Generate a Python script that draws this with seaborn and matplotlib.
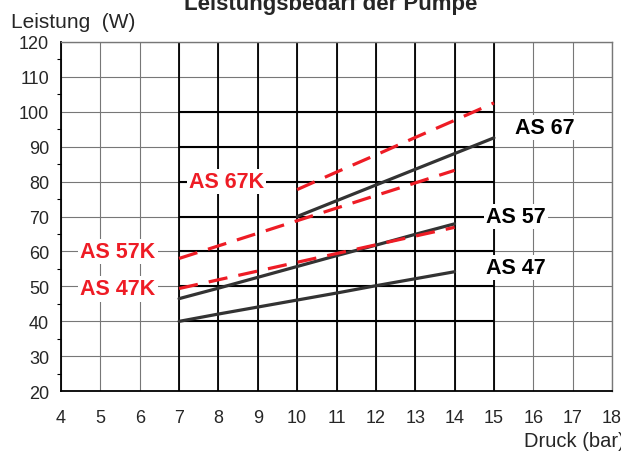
import pandas as pd
import seaborn as sns
import matplotlib.pyplot as plt

# Leistungsbedarf der Pumpe: Druck (bar) vs Leistung (W)
druck_7_14 = [7, 8, 9, 10, 11, 12, 13, 14]
druck_10_15 = [10, 11, 12, 13, 14, 15]

as47 = [40, 42.1, 44.1, 46.1, 48.1, 50.2, 52.2, 54.2]
as57 = [46.5, 49.5, 52.6, 55.7, 58.8, 61.8, 64.9, 67.9]
as67 = [70, 74.5, 79, 83.5, 88, 92.5]
as47k = [49.4, 51.9, 54.4, 56.9, 59.4, 61.9, 64.4, 66.9]
as57k = [58, 61.6, 65.2, 68.8, 72.4, 76, 79.6, 83.2]
as67k = [77.7, 82.7, 87.6, 92.6, 97.5, 102.5]

x_ticks = list(range(4, 19))
y_ticks = list(range(20, 121, 10))

series = [
    ("AS 47", druck_7_14, as47),
    ("AS 57", druck_7_14, as57),
    ("AS 67", druck_10_15, as67),
    ("AS 47K", druck_7_14, as47k),
    ("AS 57K", druck_7_14, as57k),
    ("AS 67K", druck_10_15, as67k),
]
rows = []
for name, xs, ys in series:
    for x, y in zip(xs, ys):
        rows.append({"Druck": x, "Leistung": y, "Pumpe": name})
df = pd.DataFrame(rows)

sns.set_style("white")
plt.rcParams['font.family'] = ['Liberation Sans', 'DejaVu Sans']

fig = plt.figure(figsize=(6.21, 4.52), dpi=100)
ax = fig.add_axes([61 / 621, 0.1321, 551 / 621, 0.7734])

# grid: thin grey everywhere, heavier black in the central block
for x in x_ticks:
    ax.axvline(x, color='#777777', lw=0.8, zorder=0)
for y in y_ticks:
    ax.axhline(y, color='#777777', lw=0.8, zorder=0)
ax.vlines(range(7, 16), 20, 120, color='black', lw=1.3, zorder=0)
ax.hlines(range(40, 101, 10), 7, 15, color='black', lw=1.5, zorder=0)

black = '#333333'
red = '#ee1c25'
palette = {"AS 47": black, "AS 57": black, "AS 67": black,
           "AS 47K": red, "AS 57K": red, "AS 67K": red}
dashes = {"AS 47": "", "AS 57": "", "AS 67": "",
          "AS 47K": (6, 3.5), "AS 57K": (6, 3.5), "AS 67K": (6, 3.5)}
sns.lineplot(data=df, x="Druck", y="Leistung", hue="Pumpe", style="Pumpe",
             palette=palette, dashes=dashes, lw=2.3, legend=False, ax=ax,
             zorder=3)

box = dict(fc='white', ec='none', pad=1.5)
lab = dict(fontsize=15.5, fontweight='bold', ha='center', va='center', bbox=box, zorder=4)
ax.text(8.2, 80, "AS 67K", color=red, **lab)
ax.text(5.45, 60, "AS 57K", color=red, **lab)
ax.text(5.45, 49.3, "AS 47K", color=red, **lab)
ax.text(16.3, 95.4, "AS 67", color='black', **lab)
ax.text(15.55, 70, "AS 57", color='black', **lab)
ax.text(15.55, 55.4, "AS 47", color='black', **lab)

ax.set_xlim(4, 18)
ax.set_ylim(20, 120)
ax.set_xticks(x_ticks)
ax.set_yticks(y_ticks)
ax.set_yticks(range(25, 120, 10), minor=True)
ax.tick_params(axis='both', labelsize=13, length=5, width=1, color='black', direction='out')
ax.tick_params(axis='y', which='minor', length=3, width=0.8, color='black', left=True)
ax.tick_params(axis='x', pad=8)
ax.set_xlabel("")
ax.set_ylabel("")
for s in ['left', 'bottom']:
    ax.spines[s].set_color('black')
    ax.spines[s].set_linewidth(1.3)
for s in ['top', 'right']:
    ax.spines[s].set_color('#777777')
    ax.spines[s].set_linewidth(1)

fig.text(331 / 621, 1 - 10 / 452, "Leistungsbedarf der Pumpe", fontsize=16,
         fontweight='bold', ha='center', va='baseline')
fig.text(11 / 621, 1 - 28 / 452, "Leistung  (W)", fontsize=15, ha='left', va='baseline')
fig.text(524 / 621, 1 - 447 / 452, "Druck (bar)", fontsize=14.5, ha='left', va='baseline')

fig.savefig("out.png", dpi=100)
